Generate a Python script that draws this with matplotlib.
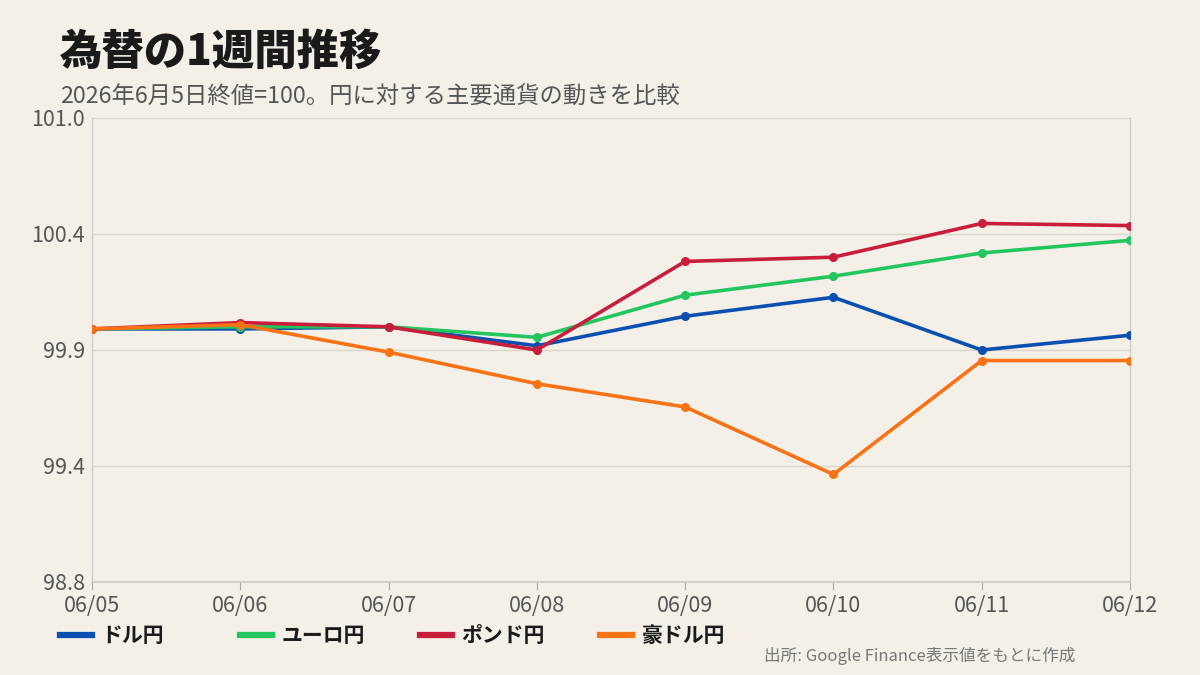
import matplotlib
matplotlib.use("Agg")
import matplotlib.pyplot as plt
import numpy as np

plt.rcParams['font.family'] = ['Noto Sans CJK JP', 'DejaVu Sans']

dates = ["06/05", "06/06", "06/07", "06/08", "06/09", "06/10", "06/11", "06/12"]
usd = [100.00, 100.00, 100.01, 99.92, 100.06, 100.15, 99.90, 99.97]
eur = [100.00, 100.01, 100.01, 99.96, 100.16, 100.25, 100.36, 100.42]
gbp = [100.00, 100.03, 100.01, 99.90, 100.32, 100.34, 100.50, 100.49]
aud = [100.00, 100.02, 99.89, 99.74, 99.63, 99.31, 99.85, 99.85]
series_names = ["ドル円", "ユーロ円", "ポンド円", "豪ドル円"]
colors = ["#0b4fb0", "#22c55e", "#c81e3c", "#f97316"]
ytick_vals = [98.8, 99.35, 99.9, 100.45, 101.0]
ytick_labels = ["98.8", "99.4", "99.9", "100.4", "101.0"]

bg = "#f4f0e8"
fig = plt.figure(figsize=(12, 6.75), dpi=100, facecolor=bg)
ax = fig.add_axes([92/1200, 93/675, 1038/1200, 464/675], facecolor=bg)

x = np.arange(len(dates))
lines = []
for vals, c, name in zip([usd, eur, gbp, aud], colors, series_names):
    ln, = ax.plot(x, vals, color=c, lw=2.6, marker='o', markersize=5.5, label=name,
                  solid_joinstyle='round', zorder=3)
    lines.append(ln)

ax.set_xlim(0, len(dates) - 1)
ax.set_ylim(98.8, 101.0)
ax.set_yticks(ytick_vals)
ax.set_yticklabels(ytick_labels)
ax.set_xticks(x)
ax.set_xticklabels(dates)
ax.grid(axis='y', color='#dcd6c8', lw=1)
ax.set_axisbelow(True)
for s in ['left', 'right']:
    ax.spines[s].set_color('#cccccc')
    ax.spines[s].set_linewidth(1)
ax.spines['top'].set_visible(False)
ax.spines['bottom'].set_color('#cfc9ba')
ax.spines['bottom'].set_linewidth(1.2)
ax.tick_params(axis='y', length=0, pad=5, labelsize=15.5, labelcolor='#555555')
ax.tick_params(axis='x', length=6, color='#aaaaaa', pad=3, labelsize=15.5, labelcolor='#555555')

fig.text(60/1200, 1 - 52/675, "為替の1週間推移", fontsize=30.5, fontweight='black',
         color='#1a1a1a', va='center', ha='left')
fig.text(60/1200, 1 - 97/675, "2026年6月5日終値=100。円に対する主要通貨の動きを比較",
         fontsize=16.8, color='#555555', va='center', ha='left')

leg_x = [60, 240, 420, 600]
for ln, lx in zip(lines, leg_x):
    leg = fig.legend(handles=[ln], loc='center left',
                     bbox_to_anchor=(lx/1200, 1 - 636/675),
                     frameon=False, handlelength=1.55, handletextpad=0.45,
                     borderaxespad=0, borderpad=0,
                     prop={'size': 15, 'weight': 'bold'})
    for h in leg.legend_handles:
        h.set_marker('')
        h.set_linewidth(4.5)
    for t in leg.get_texts():
        t.set_color('#1a1a1a')

fig.text(1075/1200, 1 - 656/675, "出所: Google Finance表示値をもとに作成",
         fontsize=12, color='#777777', va='center', ha='right')

fig.savefig("out.png", dpi=100, facecolor=bg)
